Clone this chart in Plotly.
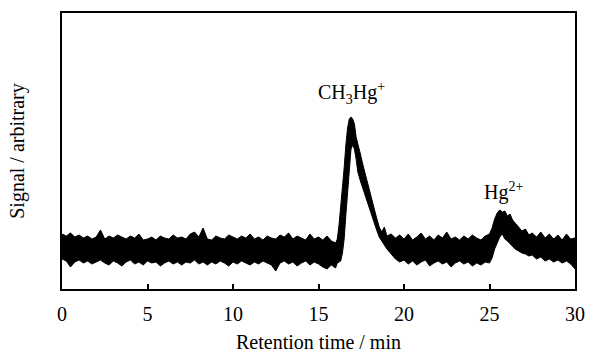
import plotly.graph_objects as go

# Retention time (min) and the upper / lower edges of the noisy trace (arbitrary signal units)
time_min = [
    0.00, 0.25, 0.50, 0.75, 1.00, 1.25, 1.50, 1.75, 2.00, 2.25, 2.50, 2.75, 3.00, 3.25, 3.50, 3.75,
    4.00, 4.25, 4.50, 4.75, 5.00, 5.25, 5.50, 5.75, 6.00, 6.25, 6.50, 6.75, 7.00, 7.25, 7.50, 7.75,
    8.00, 8.25, 8.50, 8.75, 9.00, 9.25, 9.50, 9.75, 10.00, 10.25, 10.50, 10.75, 11.00, 11.25, 11.50, 11.75,
    12.00, 12.25, 12.50, 12.75, 13.00, 13.25, 13.50, 13.75, 14.00, 14.25, 14.50, 14.75, 15.00, 15.25, 15.50, 15.75,
    16.00, 16.10, 16.20, 16.30, 16.40, 16.50, 16.60, 16.70, 16.80, 16.90, 17.00, 17.10, 17.20, 17.30, 17.45, 17.60,
    17.80, 18.00, 18.20, 18.40, 18.55, 18.70, 18.85, 19.00, 19.25,
    19.50, 19.75, 20.00, 20.25, 20.50, 20.75, 21.00, 21.25, 21.50, 21.75, 22.00, 22.25, 22.50, 22.75, 23.00, 23.25,
    23.50, 23.75, 24.00, 24.25, 24.50, 24.75, 25.00,
    25.15, 25.30, 25.45, 25.60, 25.75, 25.90, 26.05, 26.20, 26.35, 26.50, 26.70, 26.90, 27.10, 27.30, 27.50,
    27.75, 28.00, 28.25, 28.50, 28.75, 29.00, 29.25, 29.50, 29.75, 30.00,
]
signal_upper = [
    55, 53, 56, 52, 54, 51, 53, 50, 52, 59, 50, 53, 51, 54, 52, 50,
    53, 51, 55, 49, 50, 52, 49, 53, 51, 50, 54, 51, 52, 50, 55, 57,
    52, 61, 50, 49, 53, 51, 50, 54, 52, 50, 53, 51, 55, 50, 52, 49,
    53, 51, 50, 54, 52, 56, 50, 53, 51, 49, 55, 50, 52, 49, 53, 48,
    46, 50, 64, 82, 99, 121, 144, 161, 170, 172, 170, 165, 152, 144, 135, 124,
    110, 97, 84, 71, 62, 57, 62, 53, 55,
    51, 54, 50, 55, 49, 52, 56, 50, 53, 49, 54, 51, 57, 50, 52, 49,
    53, 50, 54, 51, 49, 53, 55,
    61, 70, 76, 79, 77, 78, 73, 75, 69, 66, 61, 58, 60, 54, 56,
    52, 57, 51, 55, 50, 54, 49, 55, 50, 51,
]
signal_lower = [
    30, 28, 22, 27, 29, 26, 28, 25, 27, 29, 26, 24, 28, 26, 23, 27,
    29, 25, 27, 24, 28, 26, 27, 23, 26, 28, 25, 27, 24, 27, 26, 29,
    25, 27, 24, 27, 25, 28, 26, 23, 27, 25, 28, 26, 24, 27, 25, 28,
    26, 24, 18, 26, 28, 25, 27, 23, 26, 28, 24, 27, 25, 22, 20, 24,
    21, 26, 27, 28, 36, 50, 74, 95, 125, 140, 144, 140, 130, 117, 108, 100,
    90, 79, 69, 59, 52, 48, 45, 40, 35,
    30, 27, 29, 25, 28, 24, 27, 29, 23, 26, 28, 25, 27, 22, 26, 28,
    25, 27, 23, 26, 24, 27, 26,
    31, 40, 46, 52, 55, 50, 48, 45, 42, 40, 38, 36, 35, 33, 34,
    30, 32, 28, 30, 27, 29, 26, 28, 25, 20,
]

x_ticks = [0, 5, 10, 15, 20, 25, 30]
peak_labels = ["CH<sub>3</sub>Hg<sup>+</sup>", "Hg<sup>2+</sup>"]
peak_label_x = [16.95, 25.8]
peak_label_y = [196, 98]

FONT = "Liberation Serif"

fig = go.Figure()
fig.add_trace(go.Scatter(x=time_min, y=signal_lower, mode="lines",
                         line=dict(color="black", width=1), hoverinfo="skip", showlegend=False))
fig.add_trace(go.Scatter(x=time_min, y=signal_upper, mode="lines", fill="tonexty",
                         fillcolor="black", line=dict(color="black", width=1),
                         hoverinfo="skip", showlegend=False))

for txt, xx, yy in zip(peak_labels, peak_label_x, peak_label_y):
    fig.add_annotation(x=xx, y=yy, text=txt, showarrow=False,
                       font=dict(family=FONT, size=20, color="black"))

fig.update_layout(
    width=590, height=353,
    margin=dict(l=62, r=15, t=13, b=64),
    paper_bgcolor="white", plot_bgcolor="white",
    font=dict(family=FONT, size=20, color="black"),
)
fig.update_xaxes(range=[0, 30], tickvals=x_ticks, ticks="inside", ticklen=5, tickwidth=1.5,
                 tickcolor="black", showline=True, linecolor="black", linewidth=1.5, mirror=True,
                 showgrid=False, zeroline=False, ticklabelstandoff=6, automargin=False,
                 ticklabeloverflow="allow",
                 tickfont=dict(family=FONT, size=20),
                 title=dict(text="Retention time / min", font=dict(family=FONT, size=20), standoff=12))
fig.update_yaxes(range=[0, 276], showticklabels=False, ticks="", showline=True, linecolor="black",
                 linewidth=1.5, mirror=True, showgrid=False, zeroline=False, automargin=False,
                 title=dict(text="Signal / arbitrary", font=dict(family=FONT, size=20), standoff=30))

# remove the page's default 8 px body margin so the figure sits at the window's top-left corner
fig.write_html("out.html", config={"displayModeBar": False},
               post_script="document.body.style.margin='0';")
